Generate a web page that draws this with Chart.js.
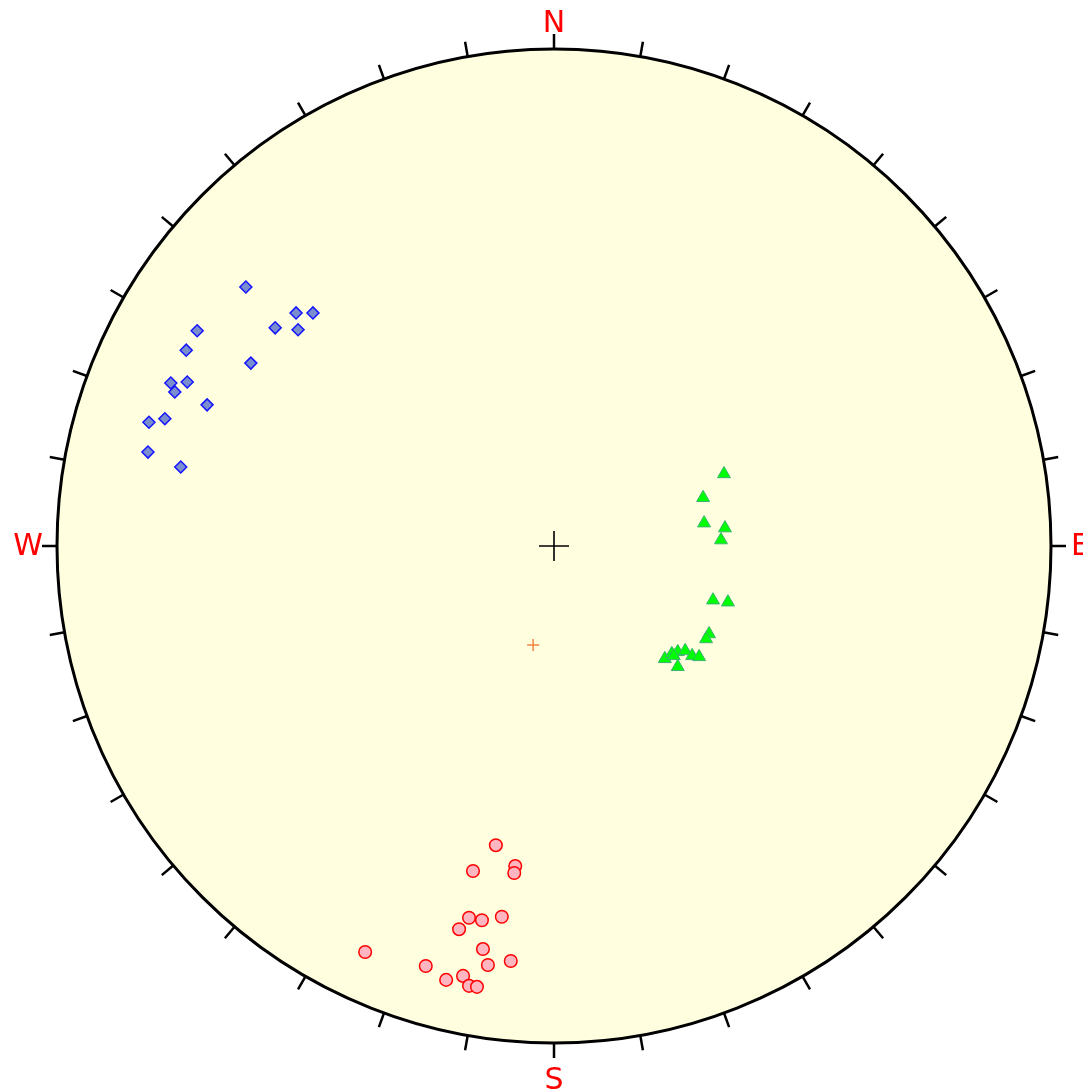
<!DOCTYPE html>
<html>
<head>
<meta charset="utf-8">
<title>Stereonet – pole plot</title>
<script src="https://cdn.jsdelivr.net/npm/chart.js@4.4.1/dist/chart.umd.min.js"></script>
<style>
  html, body { margin: 0; padding: 0; background: #ffffff; }
  #wrap { width: 1083px; height: 1092px; }
</style>
</head>
<body>
<div id="wrap"><canvas id="net" width="1083" height="1092"></canvas></div>
<script>
// Projected pole positions on the unit net (x = east, y = north, radius = 1)
const set1X = [-0.620, -0.519, -0.485, -0.561, -0.515, -0.718, -0.740, -0.610, -0.771, -0.738, -0.763, -0.698, -0.815, -0.783, -0.817, -0.751];
const set1Y = [ 0.521,  0.469,  0.469,  0.439,  0.435,  0.433,  0.394,  0.368,  0.328,  0.330,  0.310,  0.284,  0.249,  0.256,  0.189,  0.159];

const set2X = [0.342, 0.300, 0.302, 0.344, 0.336, 0.320, 0.350, 0.312, 0.306, 0.223, 0.237, 0.249, 0.264, 0.278, 0.292, 0.249, 0.241];
const set2Y = [0.145, 0.097, 0.046, 0.036, 0.012, -0.109, -0.113, -0.177, -0.187, -0.227, -0.217, -0.213, -0.211, -0.221, -0.223, -0.243, -0.221];

const set3X = [-0.117, -0.078, -0.080, -0.163, -0.171, -0.145, -0.105, -0.191, -0.143, -0.087, -0.133, -0.380, -0.258, -0.217, -0.183, -0.171, -0.155];
const set3Y = [-0.602, -0.644, -0.658, -0.654, -0.748, -0.753, -0.746, -0.771, -0.811, -0.835, -0.843, -0.817, -0.845, -0.873, -0.865, -0.885, -0.887];

const centreMark = [0, 0];
const meanMark = [-0.042, -0.199];

const compassLabels = ['N', 'E', 'S', 'W'];
const tickStepDeg = 10;

function toPoints(xs, ys) {
  return xs.map((x, i) => ({ x: x, y: ys[i] }));
}

// Net outline, background fill, azimuth ticks and compass letters
const netFrame = {
  id: 'netFrame',
  beforeDatasetsDraw(chart) {
    const { ctx, scales } = chart;
    const cx = scales.x.getPixelForValue(0);
    const cy = scales.y.getPixelForValue(0);
    const R = scales.x.getPixelForValue(1) - cx;
    ctx.save();
    ctx.beginPath();
    ctx.arc(cx, cy, R, 0, Math.PI * 2);
    ctx.fillStyle = '#FFFFE0';
    ctx.fill();
    ctx.lineWidth = 3;
    ctx.strokeStyle = '#000000';
    ctx.stroke();

    ctx.lineWidth = 2.5;
    ctx.lineCap = 'butt';
    for (let a = 0; a < 360; a += tickStepDeg) {
      const t = a * Math.PI / 180;
      const sx = Math.sin(t), sy = -Math.cos(t);
      ctx.beginPath();
      ctx.moveTo(cx + sx * R, cy + sy * R);
      ctx.lineTo(cx + sx * (R + 15), cy + sy * (R + 15));
      ctx.stroke();
    }

    ctx.fillStyle = '#FF0000';
    ctx.font = '30px "DejaVu Sans", sans-serif';
    ctx.textAlign = 'center';
    ctx.textBaseline = 'alphabetic';
    ctx.fillText(compassLabels[0], cx, cy - R - 17);
    ctx.fillText(compassLabels[2], cx, cy + R + 46);
    ctx.textBaseline = 'middle';
    ctx.textAlign = 'left';
    ctx.fillText(compassLabels[1], cx + R + 20, cy + 1);
    ctx.textAlign = 'right';
    ctx.fillText(compassLabels[3], cx - R - 14, cy + 1);
    ctx.restore();
  }
};

new Chart(document.getElementById('net'), {
  type: 'scatter',
  data: {
    datasets: [
      {
        label: 'Set 1',
        data: toPoints(set1X, set1Y),
        pointStyle: 'rectRot',
        pointRadius: 6,
        pointBackgroundColor: 'rgb(122,142,206)',
        pointBorderColor: '#1414FF',
        pointBorderWidth: 1.5
      },
      {
        label: 'Set 2',
        data: toPoints(set2X, set2Y),
        pointStyle: 'triangle',
        pointRadius: 7.5,
        pointBackgroundColor: '#00FF00',
        pointBorderColor: '#3CB371',
        pointBorderWidth: 1
      },
      {
        label: 'Set 3',
        data: toPoints(set3X, set3Y),
        pointStyle: 'circle',
        pointRadius: 6.3,
        pointBackgroundColor: '#FFB6C1',
        pointBorderColor: '#FF0000',
        pointBorderWidth: 1.5
      },
      {
        label: 'Mean',
        data: [{ x: meanMark[0], y: meanMark[1] }],
        pointStyle: 'cross',
        pointRadius: 6,
        pointBorderColor: 'rgba(240,110,40,0.85)',
        pointBorderWidth: 1.5
      },
      {
        label: 'Centre',
        data: [{ x: centreMark[0], y: centreMark[1] }],
        pointStyle: 'cross',
        pointRadius: 15,
        pointBorderColor: '#000000',
        pointBorderWidth: 1.6
      }
    ]
  },
  options: {
    responsive: false,
    animation: false,
    clip: false,
    layout: { padding: { left: 57, right: 32, top: 49, bottom: 49 } },
    plugins: { legend: { display: false }, tooltip: { enabled: false } },
    elements: { point: { hoverRadius: 6 } },
    scales: {
      x: { type: 'linear', min: -1, max: 1, display: false },
      y: { type: 'linear', min: -1, max: 1, display: false }
    }
  },
  plugins: [netFrame]
});
</script>
</body>
</html>
